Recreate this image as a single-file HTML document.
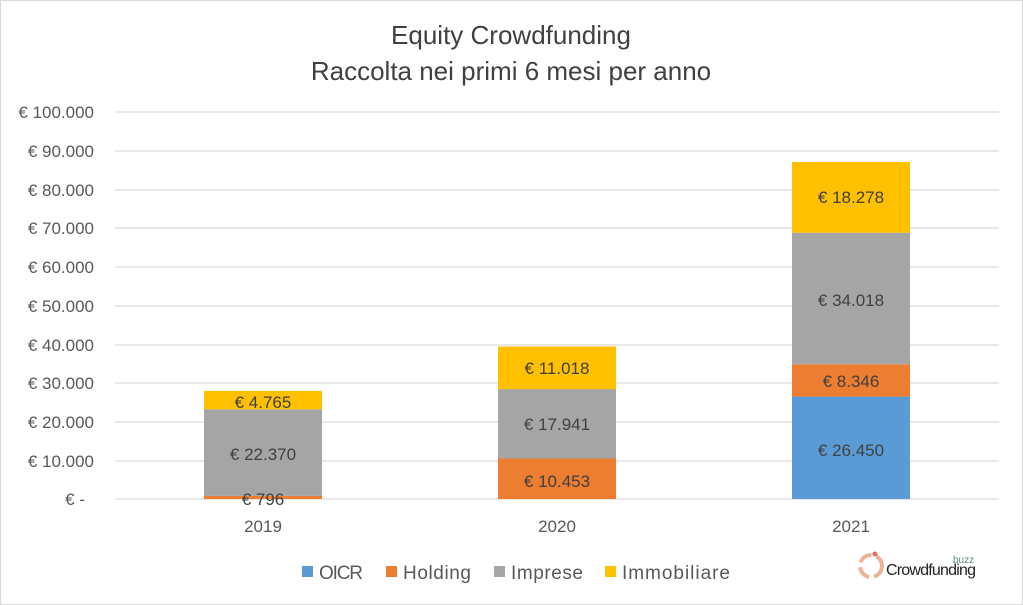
<!DOCTYPE html>
<html><head><meta charset="utf-8"><style>
body{margin:0;background:#fff}
svg{display:block;font-family:"Liberation Sans",sans-serif}
</style></head><body>
<svg width="1023" height="605" viewBox="0 0 1023 605">
<rect x="0.5" y="0.5" width="1022" height="604" fill="#fff" stroke="#d9d9d9"/>
<g fill="#404040" font-size="26" text-anchor="middle">
<text x="511" y="44">Equity Crowdfunding</text>
<text x="511" y="80">Raccolta nei primi 6 mesi per anno</text>
</g>
<g stroke="#d9d9d9" stroke-width="1.3">
<line x1="115" x2="999" y1="112" y2="112"/><line x1="115" x2="999" y1="151" y2="151"/>
<line x1="115" x2="999" y1="190" y2="190"/><line x1="115" x2="999" y1="228" y2="228"/>
<line x1="115" x2="999" y1="267" y2="267"/><line x1="115" x2="999" y1="306" y2="306"/>
<line x1="115" x2="999" y1="345" y2="345"/><line x1="115" x2="999" y1="383" y2="383"/>
<line x1="115" x2="999" y1="422" y2="422"/><line x1="115" x2="999" y1="461" y2="461"/>
<line x1="115" x2="999" y1="499" y2="499"/>
</g>
<g fill="#595959" font-size="17" text-anchor="end">
<text x="94" y="118">€ 100.000</text><text x="94" y="157">€ 90.000</text>
<text x="94" y="196">€ 80.000</text><text x="94" y="234">€ 70.000</text>
<text x="94" y="273">€ 60.000</text><text x="94" y="312">€ 50.000</text>
<text x="94" y="351">€ 40.000</text><text x="94" y="389">€ 30.000</text>
<text x="94" y="428">€ 20.000</text><text x="94" y="467">€ 10.000</text>
<text x="85" y="505">€ -</text>
</g>
<rect x="204" y="495.9" width="118" height="3.1" fill="#ed7d31"/>
<rect x="204" y="409.3" width="118" height="86.6" fill="#a5a5a5"/>
<rect x="204" y="390.9" width="118" height="18.4" fill="#ffc000"/>
<rect x="498" y="458.5" width="118" height="40.5" fill="#ed7d31"/>
<rect x="498" y="389.1" width="118" height="69.4" fill="#a5a5a5"/>
<rect x="498" y="346.5" width="118" height="42.6" fill="#ffc000"/>
<rect x="792" y="396.6" width="118" height="102.4" fill="#5b9bd5"/>
<rect x="792" y="364.3" width="118" height="32.3" fill="#ed7d31"/>
<rect x="792" y="232.7" width="118" height="131.6" fill="#a5a5a5"/>
<rect x="792" y="162" width="118" height="70.7" fill="#ffc000"/>
<g fill="#404040" font-size="17" text-anchor="middle">
<text x="263" y="408">€ 4.765</text><text x="263" y="460">€ 22.370</text><text x="263" y="505">€ 796</text>
<text x="557" y="374">€ 11.018</text><text x="557" y="430">€ 17.941</text><text x="557" y="487">€ 10.453</text>
<text x="851" y="203">€ 18.278</text><text x="851" y="306">€ 34.018</text><text x="851" y="387">€ 8.346</text><text x="851" y="456">€ 26.450</text>
</g>
<g fill="#595959" font-size="17" text-anchor="middle">
<text x="263" y="532">2019</text><text x="557" y="532">2020</text><text x="851" y="532">2021</text>
</g>
<g font-size="19" fill="#595959">
<rect x="302" y="566" width="11" height="11" fill="#5b9bd5"/><text x="319" y="579" textLength="44">OICR</text>
<rect x="386" y="566" width="11" height="11" fill="#ed7d31"/><text x="403" y="579" textLength="68">Holding</text>
<rect x="494" y="566" width="11" height="11" fill="#a5a5a5"/><text x="511" y="579" textLength="72">Imprese</text>
<rect x="605" y="566" width="11" height="11" fill="#ffc000"/><text x="622" y="579" textLength="108">Immobiliare</text>
</g>
<g>
<circle cx="871" cy="566" r="11" fill="none" stroke="#e8a080" stroke-width="4" stroke-dasharray="14 5" opacity="0.8"/>
<circle cx="875" cy="554" r="2.5" fill="#e07060"/>
<text x="886" y="575" font-size="16" fill="#222" textLength="90">Crowdfunding</text>
<text x="953" y="563" font-size="10" fill="#5a8a80">buzz</text>
</g>
</svg>
</body></html>
